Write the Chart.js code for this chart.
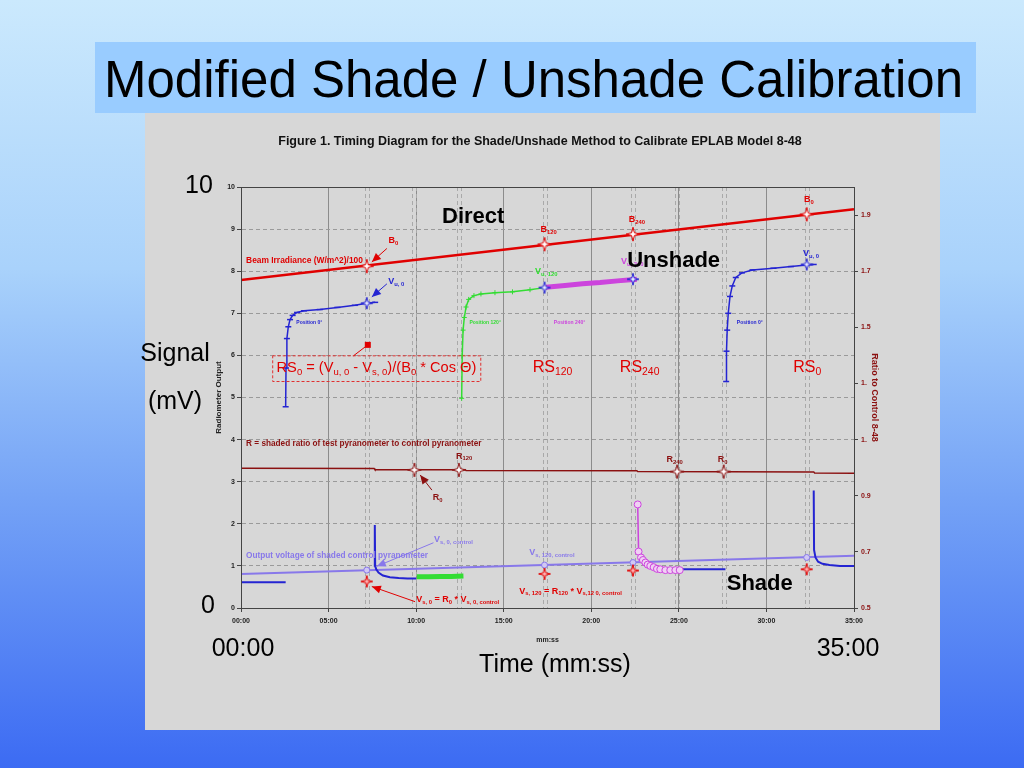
<!DOCTYPE html>
<html>
<head>
<meta charset="utf-8">
<script src="https://cdn.jsdelivr.net/npm/chart.js@4.4.1/dist/chart.umd.min.js"></script>
<style>
html, body { margin: 0; padding: 0; }
body {
  width: 1024px; height: 768px; overflow: hidden; position: relative;
  background: linear-gradient(to bottom, #cbe9fd 0%, #a9d2fb 35%, #74a2f6 65%, #3c6bf3 100%);
  font-family: "Liberation Sans", Arial, sans-serif;
}
#title { position: absolute; left: 95px; top: 42px; width: 881px; height: 71px; background: #99ccff; }
#title span { position: absolute; left: 9px; top: 12px; font-size: 51px; line-height: 1; white-space: nowrap; }
#panel { position: absolute; left: 145px; top: 113px; width: 795px; height: 617px; background: #d7d7d7; }
#panel canvas { display: block; }
.lab { position: absolute; font-size: 25px; line-height: 1; white-space: nowrap; transform: translate(-50%, -50%); }
#fig { position: absolute; left: 540px; top: 141px; transform: translate(-50%, -50%); white-space: nowrap;
  font-family: "Liberation Sans Narrow", "Arial Narrow", "Liberation Sans", sans-serif; font-weight: bold; font-size: 12.5px; color: #111; }
</style>
</head>
<body>
<div id="title"><span>Modified Shade / Unshade Calibration</span></div>
<div id="panel"><canvas id="chart" width="795" height="617"></canvas></div>
<div id="fig">Figure 1. Timing Diagram for the Shade/Unshade Method to Calibrate EPLAB Model 8-48</div>
<div class="lab" style="left:199px;top:184px">10</div>
<div class="lab" style="left:208px;top:604px">0</div>
<div class="lab" style="left:175px;top:352px">Signal</div>
<div class="lab" style="left:175px;top:400px">(mV)</div>
<div class="lab" style="left:243px;top:647px">00:00</div>
<div class="lab" style="left:848px;top:647px">35:00</div>
<div class="lab" style="left:555px;top:663px">Time (mm:ss)</div>
<script>
// axis ticks
const xTicks = [0, 5, 10, 15, 20, 25, 30, 35];
const xTickLabels = ['00:00', '05:00', '10:00', '15:00', '20:00', '25:00', '30:00', '35:00'];
const yTicks = [0, 1, 2, 3, 4, 5, 6, 7, 8, 9, 10];
const y2Ticks = [0.5, 0.7, 0.9, 1.1, 1.3, 1.5, 1.7, 1.9];
const y2TickLabels = ['0.5', '0.7', '0.9', '1.', '1.', '1.5', '1.7', '1.9'];

// beam irradiance (W/m^2)/100
const beamT = [0, 35];
const beamV = [7.79, 9.47];

// unshaded test radiometer, positions 0, 120, 240, 0
const vu0aT = [2.55, 2.57, 2.62, 2.7, 2.8, 2.95, 3.2, 3.6, 4.5, 5.5, 6.5, 7.18, 7.66];
const vu0aV = [4.78, 5.7, 6.4, 6.68, 6.85, 6.95, 7.02, 7.06, 7.09, 7.14, 7.19, 7.24, 7.26];
const vu120T = [12.6, 12.63, 12.68, 12.75, 12.85, 13.0, 13.3, 13.7, 14.5, 15.5, 16.5, 17.33];
const vu120V = [4.98, 6.0, 6.6, 6.9, 7.15, 7.33, 7.42, 7.46, 7.49, 7.51, 7.56, 7.61];
const vu240T = [17.4, 18.5, 19.5, 20.5, 21.5, 22.6];
const vu240V = [7.62, 7.66, 7.7, 7.73, 7.77, 7.81];
const vu0bT = [27.7, 27.72, 27.76, 27.82, 27.92, 28.05, 28.25, 28.6, 29.2, 30.4, 31.4, 32.3, 32.7];
const vu0bV = [5.38, 6.1, 6.6, 7.0, 7.4, 7.65, 7.85, 7.96, 8.03, 8.07, 8.11, 8.15, 8.16];

// shaded test radiometer
const vs1T = [0, 2.55];
const vs1V = [0.61, 0.61];
const vs2T = [7.62, 7.64, 7.66, 7.72, 7.85, 8.1, 8.5, 9.0, 9.5, 10.0];
const vs2V = [0.98, 1.97, 1.0, 0.92, 0.84, 0.77, 0.73, 0.71, 0.70, 0.70];
const vs120T = [10.04, 10.7, 11.4, 12.0, 12.7];
const vs120V = [0.74, 0.74, 0.75, 0.75, 0.76];
const vs240T = [22.65, 22.7, 22.84, 22.95, 23.09, 23.22, 23.37, 23.56, 23.75, 23.94, 24.23, 24.51, 24.8, 25.05];
const vs240V = [2.46, 1.34, 1.20, 1.14, 1.08, 1.03, 1.0, 0.97, 0.93, 0.92, 0.90, 0.90, 0.90, 0.90];
const vs3T = [25.1, 27.66];
const vs3V = [0.92, 0.92];
const vs4T = [32.7, 32.72, 32.8, 32.95, 33.2, 33.6, 34.2, 35];
const vs4V = [2.79, 1.38, 1.2, 1.1, 1.05, 1.02, 1.0, 1.0];

// shaded control pyranometer
const ctrlT = [0, 35];
const ctrlV = [0.81, 1.24];

// shaded ratio test/control (right axis)
const ratioT = [0, 7.6, 7.65, 12.8, 12.85, 22.6, 22.65, 32.7, 32.75, 35];
const ratioV = [0.998, 0.997, 0.993, 0.993, 0.990, 0.989, 0.986, 0.985, 0.981, 0.980];

// sample instants
const markT = [7.18, 17.33, 22.38, 32.3];
const beamMarkV = [8.12, 8.64, 8.88, 9.35];
const vuMarkV = [7.24, 7.61, 7.81, 8.16];
const ctrlMarkV = [0.90, 1.02, 1.08, 1.20];
const vsMarkV = [0.63, 0.81, 0.89, 0.92];
const ratioMarkT = [9.9, 12.44, 24.9, 27.56];
const ratioMarkV = [0.992, 0.992, 0.986, 0.986];

const RED = '#e00000', DRED = '#8b1010', BLUE = '#2424d2', GREEN = '#33dd33',
      MAG = '#cc44dd', PURP = '#8878ea';
const FONT = '"Liberation Sans", Arial, sans-serif';

// text labels in data coordinates; _{..} marks a subscript
const notes = [
  { t: 0.29, v: 8.24, s: 'Beam Irradiance (W/m^2)/100', size: 8.5, c: RED, al: 'left', w: 117 },
  { t: 8.7, v: 8.72, s: 'B_{0}', size: 9, c: RED },
  { t: 8.86, v: 7.75, s: 'V_{u, 0}', size: 9, c: BLUE },
  { t: 3.9, v: 6.78, s: 'Position 0°', size: 5, c: BLUE },
  { t: 13.94, v: 6.78, s: 'Position 120°', size: 5, c: GREEN },
  { t: 17.43, v: 7.99, s: 'V_{u, 120}', size: 9, c: GREEN },
  { t: 18.76, v: 6.78, s: 'Position 240°', size: 5, c: MAG },
  { t: 22.34, v: 8.22, s: 'V_{u, 240}', size: 9, c: MAG },
  { t: 29.05, v: 6.78, s: 'Position 0°', size: 5, c: BLUE },
  { t: 32.55, v: 8.41, s: 'V_{u, 0}', size: 9, c: BLUE },
  { t: 17.56, v: 8.99, s: 'B_{120}', size: 9, c: RED },
  { t: 22.61, v: 9.23, s: 'B_{240}', size: 9, c: RED },
  { t: 32.42, v: 9.71, s: 'B_{0}', size: 9, c: RED },
  { t: 13.26, v: 9.29, s: 'Direct', size: 22, c: '#000' },
  { t: 24.7, v: 8.24, s: 'Unshade', size: 22, c: '#000' },
  { t: 29.62, v: 0.56, s: 'Shade', size: 22, c: '#000' },
  { t: 7.74, v: 5.69, s: 'RS_{0} = (V_{u, 0} - V_{s, 0})/(B_{0} * Cos Θ)', size: 16, c: RED, w: 200, normal: true },
  { t: 17.79, v: 5.71, s: 'RS_{120}', size: 16, c: RED, normal: true },
  { t: 22.76, v: 5.71, s: 'RS_{240}', size: 16, c: RED, normal: true },
  { t: 32.33, v: 5.71, s: 'RS_{0}', size: 16, c: RED, normal: true },
  { t: 0.29, v: 3.91, s: 'R = shaded ratio of test pyranometer to control pyranometer', size: 8.5, c: DRED, al: 'left', w: 236 },
  { t: 12.74, v: 3.61, s: 'R_{120}', size: 9, c: DRED },
  { t: 11.22, v: 2.63, s: 'R_{0}', size: 9, c: DRED },
  { t: 24.76, v: 3.53, s: 'R_{240}', size: 9, c: DRED },
  { t: 27.5, v: 3.53, s: 'R_{0}', size: 9, c: DRED },
  { t: 0.29, v: 1.24, s: 'Output voltage of shaded control pyranometer', size: 8.5, c: PURP, al: 'left', w: 182 },
  { t: 12.13, v: 1.63, s: 'V_{s, 0, control}', size: 9, c: PURP },
  { t: 17.75, v: 1.32, s: 'V_{s, 120, control}', size: 9, c: PURP },
  { t: 10.0, v: 0.19, s: 'V_{s, 0} = R_{0} * V_{s, 0, control}', size: 9, c: RED, al: 'left' },
  { t: 15.89, v: 0.40, s: 'V_{s, 120} = R_{120} * V_{s,12 0, control}', size: 9, c: RED, al: 'left' }
];

const arrows = [
  { from: [8.33, 8.54], to: [7.47, 8.22], c: RED, head: true },
  { from: [8.33, 7.70], to: [7.47, 7.39], c: BLUE, head: true },
  { from: [10.9, 2.8], to: [10.23, 3.16], c: DRED, head: true },
  { from: [9.94, 0.15], to: [7.47, 0.51], c: RED, head: true },
  { from: [10.99, 1.55], to: [7.75, 0.99], c: PURP, head: true },
  { from: [6.42, 5.99], to: [7.24, 6.25], c: RED, head: false, dot: true }
];

const rsBox = { t1: 1.81, v1: 5.99, t2: 13.69, v2: 5.38 };

const pts = (t, v) => t.map((x, i) => ({ x: x, y: v[i] }));

function star(stroke, fill, r) {
  const c = document.createElement('canvas');
  const s = Math.ceil(r * 2 + 2);
  c.width = c.height = s;
  const g = c.getContext('2d');
  const m = s / 2;
  g.beginPath();
  for (let i = 0; i < 8; i++) {
    const a = i * Math.PI / 4 - Math.PI / 2;
    const rr = i % 2 === 0 ? r : r * 0.28;
    g.lineTo(m + rr * Math.cos(a), m + rr * Math.sin(a));
  }
  g.closePath();
  g.fillStyle = fill;
  g.fill();
  g.strokeStyle = stroke;
  g.lineWidth = 1;
  g.stroke();
  return c;
}

function line(t, v, color, width, extra) {
  return Object.assign({
    data: pts(t, v), borderColor: color, backgroundColor: color, borderWidth: width,
    pointRadius: 0, tension: 0, fill: false, yAxisID: 'y'
  }, extra || {});
}

function marks(t, v, style, extra) {
  return Object.assign({
    data: pts(t, v), showLine: false, pointStyle: style, pointRadius: 6, yAxisID: 'y'
  }, extra || {});
}

function parseRich(s) {
  const out = [];
  const re = /_\{([^}]*)\}/g;
  let last = 0, m;
  while ((m = re.exec(s))) {
    if (m.index > last) out.push([s.slice(last, m.index), false]);
    out.push([m[1], true]);
    last = re.lastIndex;
  }
  if (last < s.length) out.push([s.slice(last), false]);
  return out;
}

function drawRich(ctx, n, x, y) {
  const parts = parseRich(n.s);
  const weight = n.normal ? '' : 'bold ';
  const measure = (size) => {
    let w = 0;
    for (const [t, sub] of parts) {
      ctx.font = weight + (sub ? size * 0.65 : size) + 'px ' + FONT;
      w += ctx.measureText(t).width;
    }
    return w;
  };
  let size = n.size;
  let w = measure(size);
  if (n.w) { size = size * n.w / w; w = n.w; }
  let cx = n.al === 'left' ? x : x - w / 2;
  ctx.fillStyle = n.c;
  ctx.textBaseline = 'middle';
  ctx.textAlign = 'left';
  for (const [t, sub] of parts) {
    ctx.font = weight + (sub ? size * 0.65 : size) + 'px ' + FONT;
    ctx.fillText(t, cx, sub ? y + size * 0.3 : y);
    cx += ctx.measureText(t).width;
  }
}

function drawArrow(ctx, x1, y1, x2, y2, a) {
  ctx.strokeStyle = a.c;
  ctx.fillStyle = a.c;
  ctx.lineWidth = 1;
  ctx.setLineDash([]);
  ctx.beginPath();
  ctx.moveTo(x1, y1);
  ctx.lineTo(x2, y2);
  ctx.stroke();
  if (a.head) {
    const ang = Math.atan2(y2 - y1, x2 - x1), L = 9, W = 4;
    ctx.beginPath();
    ctx.moveTo(x2, y2);
    ctx.lineTo(x2 - L * Math.cos(ang) + W * Math.sin(ang), y2 - L * Math.sin(ang) - W * Math.cos(ang));
    ctx.lineTo(x2 - L * Math.cos(ang) - W * Math.sin(ang), y2 - L * Math.sin(ang) + W * Math.cos(ang));
    ctx.closePath();
    ctx.fill();
  }
  if (a.dot) ctx.fillRect(x2 - 3, y2 - 3, 6, 6);
}

const overlay = {
  id: 'overlay',
  beforeDatasetsDraw(chart) {
    const { ctx, chartArea: a, scales: { x } } = chart;
    ctx.save();
    ctx.strokeStyle = '#a9a9a9';
    ctx.lineWidth = 1;
    ctx.setLineDash([4, 3]);
    for (const t of markT.concat(ratioMarkT)) {
      const px = Math.round(x.getPixelForValue(t)) + 0.5;
      for (const d of [-2, 2]) {
        ctx.beginPath();
        ctx.moveTo(px + d, a.top);
        ctx.lineTo(px + d, a.bottom);
        ctx.stroke();
      }
    }
    ctx.restore();
  },
  afterDatasetsDraw(chart) {
    const { ctx, chartArea: a, scales: { x, y } } = chart;
    ctx.save();
    // RS0 dashed box
    ctx.strokeStyle = '#e03030';
    ctx.lineWidth = 1;
    ctx.setLineDash([3, 2]);
    const bx = x.getPixelForValue(rsBox.t1), by = y.getPixelForValue(rsBox.v1);
    ctx.strokeRect(bx, by, x.getPixelForValue(rsBox.t2) - bx, y.getPixelForValue(rsBox.v2) - by);
    for (const ar of arrows) {
      drawArrow(ctx, x.getPixelForValue(ar.from[0]), y.getPixelForValue(ar.from[1]),
        x.getPixelForValue(ar.to[0]), y.getPixelForValue(ar.to[1]), ar);
    }
    for (const n of notes) {
      drawRich(ctx, n, x.getPixelForValue(n.t), y.getPixelForValue(n.v));
    }
    // frame
    ctx.setLineDash([]);
    ctx.strokeStyle = '#444';
    ctx.lineWidth = 1;
    ctx.strokeRect(Math.round(a.left) + 0.5, Math.round(a.top) + 0.5,
      Math.round(a.right - a.left), Math.round(a.bottom - a.top));
    ctx.restore();
  }
};

const tickFont = { family: FONT, size: 7, weight: 'bold' };

new Chart(document.getElementById('chart').getContext('2d'), {
  type: 'line',
  data: {
    datasets: [
      marks(markT, beamMarkV, star(RED, '#fff', 7)),
      marks(markT, vuMarkV, star(BLUE, '#e6e6ff', 6)),
      marks(markT, vsMarkV, star(RED, '#ffb0b0', 6)),
      marks(ratioMarkT, ratioMarkV, star(DRED, '#fff', 7), { yAxisID: 'y2' }),
      marks(markT, ctrlMarkV, 'circle', { pointRadius: 3, backgroundColor: '#d0c8f4', borderColor: PURP, borderWidth: 1 }),
      line(beamT, beamV, RED, 2.5),
      line(vu0aT, vu0aV, BLUE, 1.5, { pointStyle: 'line', pointRadius: 3, pointBorderWidth: 1.5 }),
      line(vu120T, vu120V, GREEN, 1.5, { pointStyle: 'cross', pointRadius: 2.5, pointBorderWidth: 1 }),
      line(vu240T, vu240V, MAG, 5),
      line(vu0bT, vu0bV, BLUE, 1.5, { pointStyle: 'line', pointRadius: 3, pointBorderWidth: 1.5 }),
      line(vs240T, vs240V, MAG, 1.5, { pointStyle: 'circle', pointRadius: 3.5, pointBackgroundColor: '#f0d0f4', pointBorderColor: MAG, pointBorderWidth: 1 }),
      line(vs120T, vs120V, GREEN, 5),
      line(vs1T, vs1V, BLUE, 2),
      line(vs2T, vs2V, BLUE, 2),
      line(vs3T, vs3V, BLUE, 2),
      line(vs4T, vs4V, BLUE, 2),
      line(ctrlT, ctrlV, PURP, 2),
      line(ratioT, ratioV, DRED, 1.5, { yAxisID: 'y2' })
    ]
  },
  options: {
    responsive: false,
    animation: false,
    events: [],
    layout: { padding: { left: 60, right: 40, top: 74, bottom: 86 } },
    plugins: { legend: { display: false }, tooltip: { enabled: false } },
    scales: {
      x: {
        type: 'linear', min: 0, max: 35,
        afterBuildTicks: (s) => { s.ticks = xTicks.map(v => ({ value: v })); },
        afterFit: (s) => { s.height = 36; },
        ticks: { callback: (v, i) => xTickLabels[i], font: tickFont, color: '#222', padding: 5, maxRotation: 0, autoSkip: false },
        grid: { color: '#8c8c8c', lineWidth: 1, tickLength: 4, tickColor: '#444' },
        border: { color: '#444', width: 1 },
        title: { display: true, text: 'mm:ss', font: { family: FONT, size: 7, weight: 'bold' }, color: '#222', padding: { top: 0, bottom: 0 } }
      },
      y: {
        position: 'left', min: 0, max: 10,
        afterBuildTicks: (s) => { s.ticks = yTicks.map(v => ({ value: v })); },
        afterFit: (s) => { s.width = 36; },
        ticks: { font: tickFont, color: '#222', padding: 2 },
        grid: { color: '#9a9a9a', lineWidth: 1, tickLength: 4, tickColor: '#444' },
        border: { color: '#444', width: 1, dash: [4, 3] },
        title: { display: true, text: 'Radiometer Output', font: { family: FONT, size: 8, weight: 'bold' }, color: '#222', padding: { top: 9, bottom: 0 } }
      },
      y2: {
        position: 'right', min: 0.5, max: 2.0,
        afterBuildTicks: (s) => { s.ticks = y2Ticks.map(v => ({ value: v })); },
        afterFit: (s) => { s.width = 46; },
        ticks: { callback: (v, i) => y2TickLabels[i], font: tickFont, color: DRED, padding: 3 },
        grid: { drawOnChartArea: false, tickLength: 4, tickColor: '#444' },
        border: { color: '#444', width: 1 },
        title: { display: true, text: 'Ratio to Control 8-48', font: { family: FONT, size: 9, weight: 'bold' }, color: DRED, padding: { top: 20, bottom: 0 } }
      }
    }
  },
  plugins: [overlay]
});
</script>
</body>
</html>
